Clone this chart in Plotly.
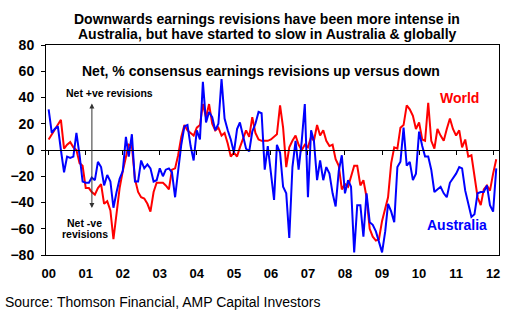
import pandas as pd
import plotly.graph_objects as go

# Monthly data, Jan 2000 - Feb 2012
dates = pd.date_range("2000-01-01", periods=146, freq="MS")

australia = [31, 13, 16, 18, 0, -17, -5, -6, -5, 13,
             -4, -24, -25, -25, -21, -23, -9, -13, -27, -19,
             -24, -44, -32, -22, -16, 10, -5, 12, -24, -24,
             -8, -14, -11, -14, -24, -23, -14, -20, -15, -14,
             -17, -36, -16, 4, 18, 19, 3, -8, 15, 8,
             52, 21, 29, 25, 15, 20, 54, 24, 15, 8,
             -2, 16, 21, 10, 1, -1, 14, 20, 29, 28,
             -15, 3, -16, -38, 4, -2, -28, -33, -67, -13,
             7, -15, 7, 35, -36, 15, 7, -23, -8, -23,
             -13, -18, -33, -43, -16, -4, -33, -23, -28, -78,
             -42, -42, -66, -33, -55, -57, -62, -69, -78, -62,
             -41, -47, -55, -13, -9, 17, -12, -9, -23, -18,
             14, 3, -5, -5, -15, -32, -30, -28, -33, -36,
             -25, -22, -18, -13, -14, -31, -40, -51, -49, -33,
             -32, -32, -27, -42, -47, -14]

world = [8, 12, 16, 19, 23, 1, 4, 6, 2, 0,
         -10, -12, -29, -29, -32, -34, -29, -26, -41, -39,
         -46, -68, -46, -29, -16, -4, 4, 3, -22, -32,
         -36, -37, -41, -47, -32, -25, -25, -25, -27, -30,
         -15, -14, -4, 10, 19, 15, 13, 11, 17, 19,
         35, 25, 35, 20, 15, 17, 11, 13, 5, -5,
         -2, -5, 2, 8, 15, 10, 25, 13, 8, 7,
         7, 7, 8, 10, 12, 34, 17, -13, 2, 7,
         11, 4, 0, 4, 2, 10, 7, 19, 11, 15,
         7, 3, 4, -7, -12, -30, -26, -28, -21, -12,
         -12, -27, -23, -36, -60, -66, -69, -68, -54, -45,
         -36, -10, 2, 1, 17, 19, 34, 31, 26, 16,
         21, 8, 7, 36, 7, 1, 16, 11, 7, 16,
         24, 16, 11, 15, 2, 8, -5, -4, -19, -36,
         -42, -30, -27, -31, -18, -7]

year_ticks = pd.date_range("2000-01-01", periods=13, freq="YS")
year_labels = ["00", "01", "02", "03", "04", "05", "06", "07", "08", "09", "10", "11", "12"]
y_ticks = [-80, -60, -40, -20, 0, 20, 40, 60, 80]

FONT = "Liberation Sans, Arial, sans-serif"
RED = "#FF0000"
BLUE = "#0000FF"
x_range = ["1999-12-06", "2012-02-28"]

fig = go.Figure()
fig.add_trace(go.Scatter(x=dates, y=world, mode="lines", name="World",
                         line=dict(color=RED, width=2)))
fig.add_trace(go.Scatter(x=dates, y=australia, mode="lines", name="Australia",
                         line=dict(color=BLUE, width=2)))
# invisible trace to anchor the zero-line axis
fig.add_trace(go.Scatter(x=[dates[0]], y=[0], xaxis="x2", mode="markers",
                         marker=dict(opacity=0), showlegend=False, hoverinfo="skip"))

fig.update_layout(
    width=510, height=316,
    margin=dict(l=43, r=10, t=45, b=61),
    paper_bgcolor="white", plot_bgcolor="white",
    showlegend=False,
    font=dict(family=FONT, color="black"),
    xaxis=dict(range=x_range, tickvals=year_ticks, ticktext=year_labels,
               showgrid=False, zeroline=False, showline=True, mirror=True,
               linecolor="black", linewidth=1, ticks="",
               tickfont=dict(family=FONT, size=13, color="black", weight="bold"),
               ticklabelstandoff=6),
    xaxis2=dict(range=x_range, overlaying="x", anchor="free", position=0.5,
                tickvals=year_ticks, showticklabels=False, ticks="outside",
                ticklen=4, tickcolor="black", showline=True, linecolor="black",
                linewidth=1, showgrid=False, zeroline=False),
    yaxis=dict(range=[-80, 80], tickvals=y_ticks, showgrid=False, zeroline=False,
               showline=True, mirror=True, linecolor="black", linewidth=1,
               ticks="outside", ticklen=4, tickcolor="black",
               tickfont=dict(family=FONT, size=14, color="black", weight="bold"),
               ticklabelstandoff=4),
)

def px2paper(x, y):
    return (x - 43) / 457.0, (255 - y) / 210.0

ann = []
def add_text(text, x, y, size, color="black", bold=True, anchor="center"):
    xp, yp = px2paper(x, y)
    ann.append(dict(text=text, x=xp, y=yp, xref="paper", yref="paper",
                    showarrow=False, xanchor=anchor, yanchor="middle",
                    font=dict(family=FONT, size=size, color=color,
                              weight="bold" if bold else "normal")))

add_text("Downwards earnings revisions have been more intense in", 266, 19, 14)
add_text("Australia, but have started to slow in Australia &amp; globally", 266, 34, 14)
add_text("Net, % consensus earnings revisions up versus down", 260, 71, 14)
add_text("World", 460, 98, 14, RED)
add_text("Australia", 458, 225, 14, BLUE)
add_text("Net +ve revisions", 107, 93, 10.5)
add_text("Net -ve", 82, 223, 10.5)
add_text("revisions", 82, 234, 10.5)
add_text("Source: Thomson Financial, AMP Capital Investors", 0, 302, 14,
         bold=False, anchor="left")

xp, yp = px2paper(89.3, 103.5)
ann.append(dict(text="", x=xp, y=yp, xref="paper", yref="paper",
                ax=0, ay=106, axref="pixel", ayref="pixel",
                showarrow=True, arrowside="end+start", arrowhead=2,
                arrowsize=1, arrowwidth=1, arrowcolor="#333333"))

fig.update_layout(annotations=ann)
fig.write_html("out.html")
